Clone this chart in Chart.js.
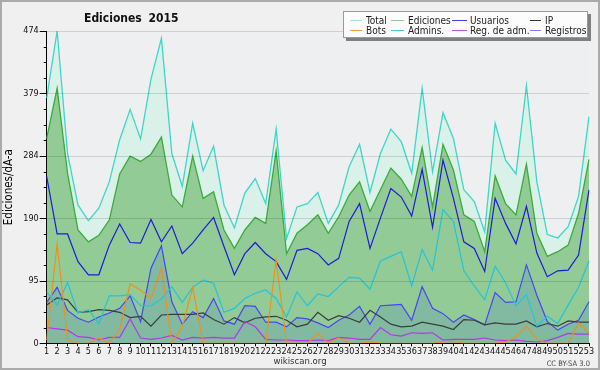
<!DOCTYPE html>
<html>
<head>
<meta charset="utf-8">
<script src="https://cdn.jsdelivr.net/npm/chart.js@4"></script>
<style>
  body { margin: 0; background: #fff; }
  #wrap { position: relative; width: 600px; height: 370px; background: #f0f0f0; overflow: hidden;
          font-family: "DejaVu Sans Condensed", "DejaVu Sans", sans-serif; }
  #frame { position: absolute; left: 0; top: 0; width: 600px; height: 370px; box-sizing: border-box;
           border: 2px solid #ababab; pointer-events: none; }
  canvas { position: absolute; left: 0; top: 0; }
  .txt { position: absolute; white-space: nowrap; }
  #title { left: 84px; top: 11px; font-weight: bold; font-size: 12px; line-height: 14px; color: #111; word-spacing: 3px; }
  #site { left: 250px; width: 100px; text-align: center; top: 355px; font-size: 9.5px; line-height: 12px; color: #333; }
  #lic { right: 10px; top: 359px; font-size: 7.5px; line-height: 9px; color: #444; }
  #legend { position: absolute; left: 343px; top: 11px; width: 245px; height: 27px; box-sizing: border-box;
            background: #fcfcfc; border: 1px solid #9a9a9a; box-shadow: 3px 3px 0 #808080; }
  .lg-line { position: absolute; height: 0; border-top: 1px solid; }
  .lg-text { position: absolute; font-size: 10px; line-height: 11px; color: #222; white-space: nowrap; }
</style>
</head>
<body>
<div id="wrap">
  <canvas id="chart" width="600" height="370"></canvas>
  <div id="title" class="txt">Ediciones 2015</div>
  <div id="legend"></div>
  <div id="site" class="txt">wikiscan.org</div>
  <div id="lic" class="txt">CC BY-SA 3.0</div>
  <div id="frame"></div>
</div>
<script>
// weeks of 2015
const weeks = ['1','2','3','4','5','6','7','8','9','10','11','12','13','14','15','16','17','18','19','20',
  '21','22','23','24','25','26','27','28','29','30','31','32','33','34','35','36','37','38','39','40',
  '41','42','43','44','45','46','47','48','49','50','51','52','53'];

const total = [372, 474, 288, 210, 186, 205, 245, 309, 355, 310, 401, 463, 288, 238, 334, 262, 299, 210,
  175, 228, 250, 212, 325, 159, 207, 212, 229, 182, 210, 268, 302, 229, 288, 325, 306, 258, 387, 260,
  350, 311, 233, 215, 169, 334, 278, 257, 391, 245, 165, 160, 177, 223, 344];
const ediciones = [311, 387, 258, 172, 154, 164, 187, 257, 284, 276, 287, 313, 225, 207, 284, 220, 230, 172,
  144, 172, 191, 182, 292, 136, 167, 180, 195, 167, 192, 225, 245, 200, 233, 266, 249, 223, 297, 207,
  302, 263, 195, 185, 139, 254, 212, 195, 272, 167, 132, 139, 149, 197, 279];
const usuarios = [253, 166, 166, 124, 104, 104, 149, 181, 153, 152, 188, 154, 178, 136, 152, 172, 191, 147,
  104, 136, 153, 136, 124, 97, 141, 144, 136, 119, 129, 185, 212, 144, 190, 235, 222, 193, 264, 176,
  278, 220, 154, 144, 109, 220, 182, 151, 208, 137, 101, 110, 111, 134, 233];
const ip = [58, 69, 66, 47, 48, 51, 50, 47, 39, 41, 26, 43, 44, 44, 44, 46, 36, 29, 39, 31, 38, 40, 41, 35,
  25, 29, 47, 35, 42, 38, 32, 50, 40, 29, 25, 26, 32, 29, 26, 21, 36, 35, 28, 31, 29, 29, 34, 25, 30,
  26, 34, 32, 32];
const bots = [5, 151, 5, 0, 0, 8, 0, 21, 90, 81, 68, 114, 0, 25, 85, 0, 0, 0, 0, 0, 0, 0, 126, 0, 0, 0,
  15, 0, 8, 0, 0, 2, 0, 0, 0, 0, 0, 0, 2, 3, 0, 0, 0, 0, 2, 10, 26, 6, 0, 0, 0, 31, 15];
const admins = [78, 58, 92, 46, 51, 30, 72, 72, 74, 57, 57, 67, 86, 62, 85, 96, 91, 47, 53, 68, 76, 81,
  68, 40, 78, 57, 75, 71, 86, 100, 99, 82, 125, 132, 139, 87, 142, 111, 203, 185, 110, 87, 66, 117,
  92, 57, 74, 26, 41, 30, 58, 85, 125];
const regAdm = [24, 22, 20, 10, 9, 5, 9, 9, 37, 8, 6, 8, 12, 5, 9, 8, 9, 8, 8, 33, 25, 6, 5, 5, 4, 4, 5,
  4, 9, 8, 6, 6, 24, 13, 11, 16, 15, 16, 5, 6, 6, 6, 8, 5, 4, 5, 3, 2, 4, 9, 15, 14, 14];
const registros = [62, 85, 50, 38, 32, 40, 46, 53, 72, 33, 114, 148, 63, 29, 48, 39, 68, 34, 29, 57, 56,
  32, 32, 25, 39, 37, 31, 24, 35, 43, 56, 29, 57, 58, 59, 35, 86, 53, 45, 32, 43, 36, 28, 77, 62, 63,
  119, 73, 33, 20, 29, 35, 63];

// y axis: labelled every 94.8, small ticks every 23.7
const yMax = 474;
const yDivs = 20;

// legend, 4 columns x 2 rows
const legendLabels = ['Total', 'Ediciones', 'Usuarios', 'IP', 'Bots', 'Admins.', 'Reg. de adm.', 'Registros'];
const legendColors = ['#a6e3db', '#8fd08f', '#4040e0', '#333333', '#f0a040', '#50c8e0', '#c050e8', '#8080f0'];

const font = '"DejaVu Sans Condensed", "DejaVu Sans", sans-serif';

(function buildLegend() {
    const box = document.getElementById('legend');
    const lineX = [6, 47, 108, 186];   // relative to box
    const lineW = [12, 13, 15, 11];
    const textX = [22, 64, 126, 201];
    const rowY = [9, 19];
    legendLabels.forEach((label, i) => {
        const col = i % 4, row = Math.floor(i / 4);
        const ln = document.createElement('div');
        ln.className = 'lg-line';
        ln.style.left = lineX[col] + 'px';
        ln.style.width = lineW[col] + 'px';
        ln.style.top = (rowY[row] - 1) + 'px';
        ln.style.borderColor = legendColors[i];
        box.appendChild(ln);
        const t = document.createElement('div');
        t.className = 'lg-text';
        t.textContent = label;
        t.style.left = textX[col] + 'px';
        t.style.top = (rowY[row] - 6.5) + 'px';
        box.appendChild(t);
    });
})();

const plotBg = {
    id: 'plotBg',
    beforeDraw(chart) {
        const { ctx, chartArea: a } = chart;
        ctx.save();
        ctx.fillStyle = '#edeff1';
        ctx.fillRect(a.left, a.top, a.right - a.left, a.bottom - a.top);
        ctx.restore();
    }
};

// grid lines over the filled areas, plus long/short tick marks on the y axis
const yDecor = {
    id: 'yDecor',
    afterDatasetsDraw(chart) {
        const { ctx, chartArea: a } = chart;
        const y = chart.scales.y;
        ctx.save();
        ctx.lineWidth = 1;
        y.ticks.forEach((t, i) => {
            const py = Math.round(y.getPixelForValue(t.value)) + 0.5;
            if (i % 4 === 0 && i > 0) {
                ctx.strokeStyle = 'rgba(0,0,0,0.13)';
                ctx.beginPath();
                ctx.moveTo(a.left, py);
                ctx.lineTo(a.right, py);
                ctx.stroke();
            }
            const len = i % 4 === 0 ? 7 : 3;
            ctx.strokeStyle = '#000';
            ctx.beginPath();
            ctx.moveTo(a.left - len, py);
            ctx.lineTo(a.left, py);
            ctx.stroke();
        });
        ctx.restore();
    }
};

function line(label, data, color, order, extra) {
    return Object.assign({
        label: label,
        data: data,
        borderColor: color,
        borderWidth: 1.2,
        pointRadius: 0,
        tension: 0,
        fill: false,
        order: order
    }, extra || {});
}

const ctx = document.getElementById('chart').getContext('2d');
new Chart(ctx, {
    type: 'line',
    data: {
        labels: weeks,
        datasets: [
            line('Total', total, '#3fd6c7', 8, { fill: 'origin', backgroundColor: '#d9f1e9', borderWidth: 1.3 }),
            line('Ediciones', ediciones, '#3aab3c', 7, { fill: 'origin', backgroundColor: '#92cb96', borderWidth: 1.3 }),
            line('Registros', registros, '#4646f5', 6, { fill: 'origin', backgroundColor: 'rgba(90,150,190,0.3)' }),
            line('IP', ip, '#3c3c3c', 5),
            line('Admins.', admins, '#22c4dc', 4),
            line('Usuarios', usuarios, '#1c1cd8', 3),
            line('Reg. de adm.', regAdm, '#b038e8', 2),
            line('Bots', bots, '#f0901c', 1)
        ]
    },
    options: {
        responsive: false,
        animation: false,
        devicePixelRatio: 1,
        layout: { padding: { top: 31, right: 11, bottom: 0, left: 0 } },
        plugins: {
            legend: { display: false },
            tooltip: { enabled: false }
        },
        scales: {
            x: {
                offset: false,
                grid: { drawOnChartArea: false, drawTicks: true, tickLength: 3, tickColor: '#000' },
                border: { display: true, color: '#000', width: 1 },
                ticks: {
                    autoSkip: false, maxRotation: 0, minRotation: 0, padding: 0,
                    color: '#111', font: { family: font, size: 9 }
                },
                afterFit(scale) { scale.height = 26.7; }
            },
            y: {
                min: 0,
                max: yMax,
                afterBuildTicks(scale) {
                    const ticks = [];
                    for (let i = 0; i <= yDivs; i++) ticks.push({ value: i * yMax / yDivs });
                    scale.ticks = ticks;
                },
                grid: { display: true, drawOnChartArea: false, drawTicks: false },
                border: { display: true, color: '#000', width: 1 },
                ticks: {
                    padding: 8,
                    color: '#111',
                    font: { family: font, size: 9 },
                    callback: (value, index) => index % 4 === 0 ? String(Math.round(value)) : ''
                },
                title: {
                    display: true,
                    text: 'Ediciones/dÃ-a',
                    color: '#000',
                    font: { family: font, size: 11.5 },
                    padding: { top: 2, bottom: 0 }
                },
                afterFit(scale) { scale.width = 46.7; }
            }
        }
    },
    plugins: [plotBg, yDecor]
});
</script>
</body>
</html>
